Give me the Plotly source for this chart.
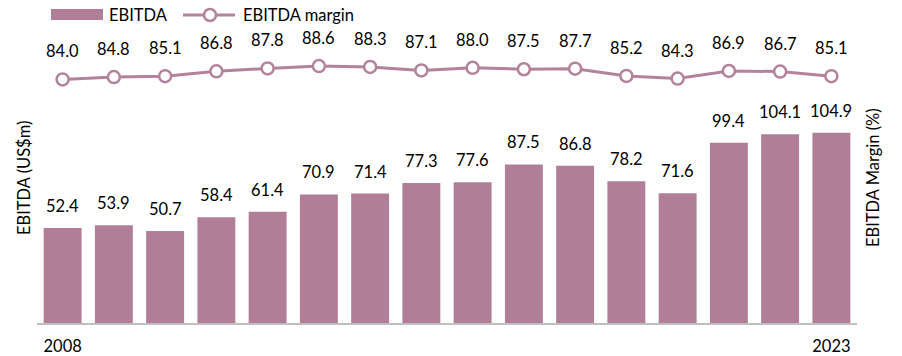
import plotly.graph_objects as go

# EBITDA (US$m) and EBITDA margin (%) by year
years = [str(y) for y in range(2008, 2024)]
ebitda = [52.4, 53.9, 50.7, 58.4, 61.4, 70.9, 71.4, 77.3, 77.6, 87.5, 86.8, 78.2, 71.6, 99.4, 104.1, 104.9]
margin = [84.0, 84.8, 85.1, 86.8, 87.8, 88.6, 88.3, 87.1, 88.0, 87.5, 87.7, 85.2, 84.3, 86.9, 86.7, 85.1]
tick_years = [years[0], years[-1]]

BAR = "#B07F97"
LINE = "#B3839B"
FONT = "Lato"
FS = 16.5

fig = go.Figure()

fig.add_trace(go.Bar(
    x=years, y=ebitda, marker=dict(color=BAR, line=dict(width=0)),
    showlegend=False, hoverinfo="skip",
))

fig.add_trace(go.Scatter(
    x=years, y=margin, yaxis="y2", mode="lines+markers",
    line=dict(color=LINE, width=3),
    marker=dict(size=12, color="white", line=dict(color=LINE, width=2.5)),
    showlegend=False, hoverinfo="skip",
))

annotations = []
# value labels above the bars (x given as category index)
for i, v in enumerate(ebitda):
    annotations.append(dict(x=i, y=v, xref="x", yref="y", text=f"{v:.1f}",
                            showarrow=False, yanchor="middle", yshift=22,
                            font=dict(family=FONT, size=FS, color="#000")))
# value labels above the margin markers
for i, v in enumerate(margin):
    annotations.append(dict(x=i, y=v, xref="x", yref="y2", text=f"{v:.1f}",
                            showarrow=False, yanchor="middle", yshift=28,
                            font=dict(family=FONT, size=FS, color="#000")))

# axis titles
annotations.append(dict(x=0, y=0.5, xref="paper", yref="paper", text="EBITDA (US$m)",
                        textangle=-90, showarrow=False, xanchor="center", yanchor="middle",
                        xshift=-13, font=dict(family=FONT, size=FS, color="#000")))
annotations.append(dict(x=1, y=0.5, xref="paper", yref="paper", text="EBITDA Margin (%)",
                        textangle=-90, showarrow=False, xanchor="center", yanchor="middle",
                        xshift=16, font=dict(family=FONT, size=FS, color="#000")))

# legend entries
annotations.append(dict(x=0, y=1, xref="paper", yref="paper", text="EBITDA",
                        showarrow=False, xanchor="left", yanchor="middle",
                        xshift=70, yshift=18, font=dict(family=FONT, size=FS, color="#000")))
annotations.append(dict(x=0, y=1, xref="paper", yref="paper", text="EBITDA margin",
                        showarrow=False, xanchor="left", yanchor="middle",
                        xshift=204, yshift=18, font=dict(family=FONT, size=FS, color="#000")))

shapes = [
    dict(type="rect", xref="paper", yref="paper", xsizemode="pixel", ysizemode="pixel",
         xanchor=0, yanchor=1, x0=14, x1=66, y0=13, y1=24,
         fillcolor=BAR, line=dict(width=0)),
    dict(type="line", xref="paper", yref="paper", xsizemode="pixel", ysizemode="pixel",
         xanchor=0, yanchor=1, x0=146, x1=198, y0=18, y1=18,
         line=dict(color=LINE, width=3)),
    dict(type="circle", xref="paper", yref="paper", xsizemode="pixel", ysizemode="pixel",
         xanchor=0, yanchor=1, x0=167, x1=179, y0=12, y1=24,
         fillcolor="white", line=dict(color=LINE, width=2.5)),
]

fig.update_layout(
    width=902, height=356,
    margin=dict(l=37, r=45, t=33, b=33),
    paper_bgcolor="white", plot_bgcolor="white",
    bargap=0.26,
    font=dict(family=FONT, size=FS, color="#000"),
    xaxis=dict(type="category", categoryorder="array", categoryarray=years,
               range=[-0.5, len(years) - 0.5], autorange=False, automargin=False,
               tickmode="array", tickvals=tick_years, ticktext=tick_years,
               showline=True, linecolor="#BFBFBF", linewidth=2, ticks="",
               showgrid=False, ticklabelstandoff=7, tickangle=0,
               tickfont=dict(family=FONT, size=FS, color="#000")),
    yaxis=dict(range=[0, 160], autorange=False, automargin=False, showgrid=False,
               showticklabels=False, zeroline=False, showline=False),
    yaxis2=dict(range=[0, 100], autorange=False, automargin=False, overlaying="y",
                side="right", showgrid=False, showticklabels=False, zeroline=False,
                showline=False),
    annotations=annotations,
    shapes=shapes,
)

fig.write_html("out.html")
